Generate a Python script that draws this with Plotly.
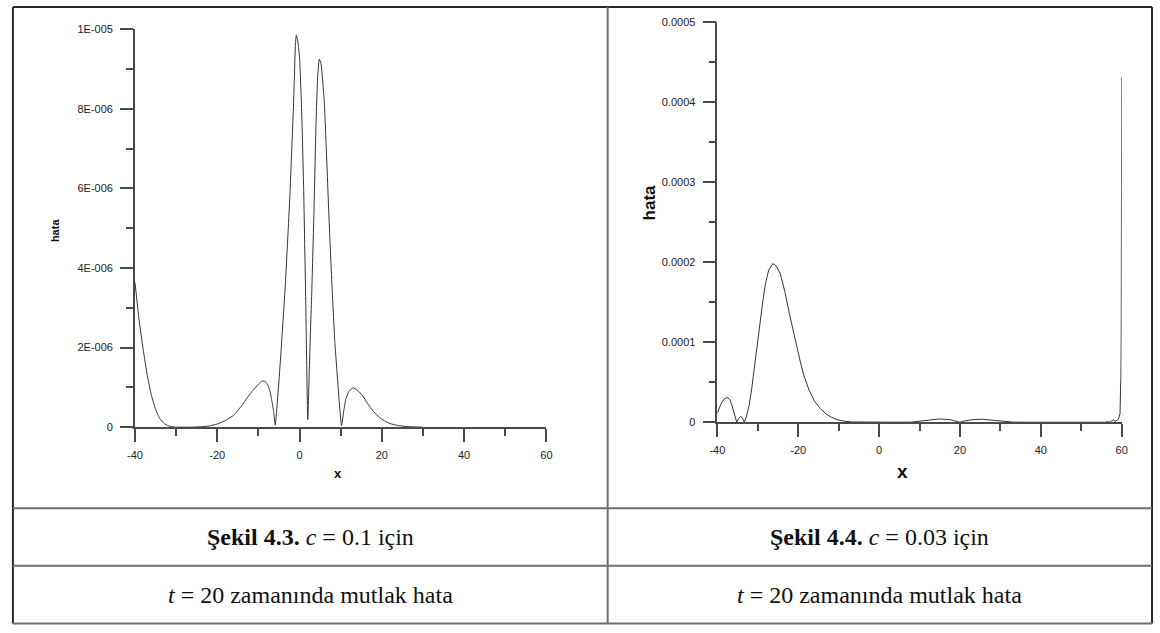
import plotly.graph_objects as go

W, H = 1160, 633

# c = 0.1, t = 20: absolute error (values in units of 1e-6)
x_c01 = [-40, -39, -38, -37, -36, -35, -34, -33, -32, -31, -30, -28, -26, -24, -22,
         -20, -18, -16, -14, -12, -10, -9, -8.3, -7.8, -7.3, -6.8, -6.3, -5.9,
         -4.7, -3.5, -2.4, -1.5, -1.0, -0.8, -0.5, 0.0, 0.5, 1.0, 1.5, 2.0,
         2.5, 3.0, 3.5, 4.0, 4.4, 4.8, 5.2, 6.0, 6.5, 7.3, 8.0, 8.6, 9.1, 9.6, 10.2,
         10.8, 11.3, 12.0, 13.0, 14.0, 15.3, 16.5, 18.0, 19.5, 20.6, 22, 24, 26, 28, 30]
err_c01 = [3.64, 2.7, 1.95, 1.3, 0.8, 0.45, 0.22, 0.1, 0.04, 0.01, 0.0, 0.0, 0.0, 0.01, 0.03,
           0.08, 0.17, 0.3, 0.55, 0.84, 1.08, 1.16, 1.14, 1.08, 0.95, 0.7, 0.4, 0.05,
           1.6, 3.5, 5.7, 8.0, 9.6, 9.85, 9.75, 9.3, 8.0, 6.0, 3.2, 0.19,
           1.9, 3.5, 5.4, 7.6, 8.8, 9.25, 9.15, 8.2, 7.0, 4.9, 3.3, 2.1, 1.4, 0.7, 0.04,
           0.45, 0.72, 0.9, 0.99, 0.93, 0.8, 0.6, 0.39, 0.24, 0.16, 0.09, 0.04, 0.015, 0.005, 0.0]

# c = 0.03, t = 20: absolute error (values in units of 1e-5)
x_c003 = [-40, -39.5, -39, -38.3, -37.6, -37, -36.5, -36, -35.5, -35.2, -34.7, -34.2, -33.7,
          -33.3, -32.7, -32.1, -31.5, -30.8, -30.0, -29.4, -28.7, -28.1, -27.3, -26.3,
          -25.4, -24.4, -23.3, -22.2, -21.3, -20.4, -19.5, -18.6, -17.3, -15.9, -14.5,
          -13.1, -11.7, -10.4, -8.5, -6.8, -4, 0, 5, 8, 10, 12.5, 15, 17.5, 19, 20, 21,
          23, 25.5, 28, 30.5, 33, 35, 55, 56, 56.5, 57, 57.5, 58, 58.3, 58.7, 59, 59.3,
          59.6, 59.7, 59.8, 59.88, 59.95, 60]
err_c003 = [1.14, 1.8, 2.4, 2.9, 3.1, 2.9, 2.3, 1.4, 0.5, 0.0, 0.5, 0.75, 0.4,
            0.0, 0.9, 2.2, 4.2, 7.1, 10.3, 12.8, 15.3, 17.3, 19.0, 19.8,
            19.5, 18.5, 16.3, 13.6, 11.5, 9.5, 7.6, 5.84, 4.0, 2.57, 1.7,
            1.02, 0.6, 0.33, 0.12, 0.04, 0.01, 0.0, 0.0, 0.02, 0.15, 0.33, 0.42, 0.33, 0.15, 0.0, 0.15,
            0.32, 0.38, 0.3, 0.14, 0.02, 0.0, 0.0, 0.0, 0.1, 0.0, 0.2, 0.3, 0.1, 0.2, 0.3, 0.55,
            1.1, 4.2, 5.4, 10.7, 37.5, 43.1]

x_ticks = [-40, -20, 0, 20, 40, 60]
x_minor = [-30, -10, 10, 30, 50]
y1_ticks = [0, 2e-6, 4e-6, 6e-6, 8e-6, 1e-5]
y1_labels = ["0", "2E-006", "4E-006", "6E-006", "8E-006", "1E-005"]
y1_minor = [1e-6, 3e-6, 5e-6, 7e-6, 9e-6]
y2_ticks = [0, 1e-4, 2e-4, 3e-4, 4e-4, 5e-4]
y2_labels = ["0", "0.0001", "0.0002", "0.0003", "0.0004", "0.0005"]
y2_minor = [0.5e-4, 1.5e-4, 2.5e-4, 3.5e-4, 4.5e-4]

captions = [
    ("<b>Şekil 4.3.</b> <i>c</i> = 0.1 için", "<i>t</i> = 20 zamanında mutlak hata"),
    ("<b>Şekil 4.4.</b> <i>c</i> = 0.03 için", "<i>t</i> = 20 zamanında mutlak hata"),
]


def px(x):
    return x / W


def py(y):
    return 1 - y / H


AX = "#4a4a4a"
TICKFONT = dict(family="Liberation Sans, Arial", size=11, color="#222")

fig = go.Figure()
fig.add_trace(go.Scatter(x=x_c01, y=[v * 1e-6 for v in err_c01], mode="lines",
                         line=dict(color="#333", width=1, shape="spline", smoothing=0.4),
                         xaxis="x", yaxis="y", showlegend=False))
fig.add_trace(go.Scatter(x=x_c003, y=[v * 1e-5 for v in err_c003], mode="lines",
                         line=dict(color="#333", width=1),
                         xaxis="x2", yaxis="y2", showlegend=False))


def xaxis(domain, anchor):
    return dict(domain=domain, anchor=anchor, range=[-40, 60], showgrid=False, zeroline=False,
                showline=True, linecolor=AX, linewidth=1.5, ticks="outside", ticklen=13,
                tickwidth=1.5, tickcolor=AX, tickvals=x_ticks, ticktext=[str(v) for v in x_ticks],
                tickfont=TICKFONT, ticklabelstandoff=4,
                minor=dict(tickvals=x_minor, ticks="outside", ticklen=7, tickwidth=1.5, tickcolor=AX))


def yaxis(domain, anchor, rng, vals, labels, minor):
    return dict(domain=domain, anchor=anchor, range=rng, showgrid=False, zeroline=False,
                showline=True, linecolor=AX, linewidth=1.5, ticks="outside", ticklen=13,
                tickwidth=1.5, tickcolor=AX, tickvals=vals, ticktext=labels,
                tickfont=TICKFONT, ticklabelstandoff=5,
                minor=dict(tickvals=minor, ticks="outside", ticklen=7, tickwidth=1.5, tickcolor=AX))


layout = dict(
    width=W, height=H, margin=dict(l=0, r=0, t=0, b=0),
    paper_bgcolor="white", plot_bgcolor="white",
    xaxis=xaxis([px(128.5), px(545)], "y"),
    yaxis=yaxis([py(429.3), py(23.7)], "x", [0, 1e-5], y1_ticks, y1_labels, y1_minor),
    xaxis2=xaxis([px(718), px(1127.3)], "y2"),
    yaxis2=yaxis([py(424.3), py(16)], "x2", [0, 5e-4], y2_ticks, y2_labels, y2_minor),
)
fig.update_layout(**layout)

# axis titles
titles = [
    ("hata", 47, 228, 11, -90),
    ("x", 334, 477, 13, 0),
    ("hata", 649, 200, 17, -90),
    ("x", 905, 475, 19, 0),
]
for txt, x, y, size, ang in titles:
    fig.add_annotation(text=f"<b>{txt}</b>", x=px(x), y=py(y), xref="paper", yref="paper",
                       showarrow=False, textangle=ang, xanchor="center", yanchor="middle",
                       font=dict(family="Liberation Sans, Arial", size=size, color="#111"))

# table rules
OUT = "#2a2a2a"
INN = "#707070"
for x0, y0, x1, y1, c in [
    (5, 1, 1158, 1, OUT), (5, 1, 5, 629.5, OUT), (1158, 1, 1158, 629.5, OUT),
    (5, 629.5, 1158, 629.5, INN), (607, 1, 607, 629.5, INN),
    (5, 512, 1158, 512, INN), (5, 570.5, 1158, 570.5, INN),
]:
    fig.add_shape(type="line", xref="paper", yref="paper", x0=px(x0), y0=py(y0), x1=px(x1), y1=py(y1),
                  line=dict(color=c, width=2))

# captions
col_centers = [306, 882]
for (row1, row2), cx in zip(captions, col_centers):
    fig.add_annotation(text=row1, x=px(cx), y=py(541), xref="paper", yref="paper", showarrow=False,
                       xanchor="center", yanchor="middle",
                       font=dict(family="Liberation Serif, DejaVu Serif", size=24, color="#111"))
    fig.add_annotation(text=row2, x=px(cx), y=py(600), xref="paper", yref="paper", showarrow=False,
                       xanchor="center", yanchor="middle",
                       font=dict(family="Liberation Serif, DejaVu Serif", size=24, color="#111"))

fig.write_html("out.html")
